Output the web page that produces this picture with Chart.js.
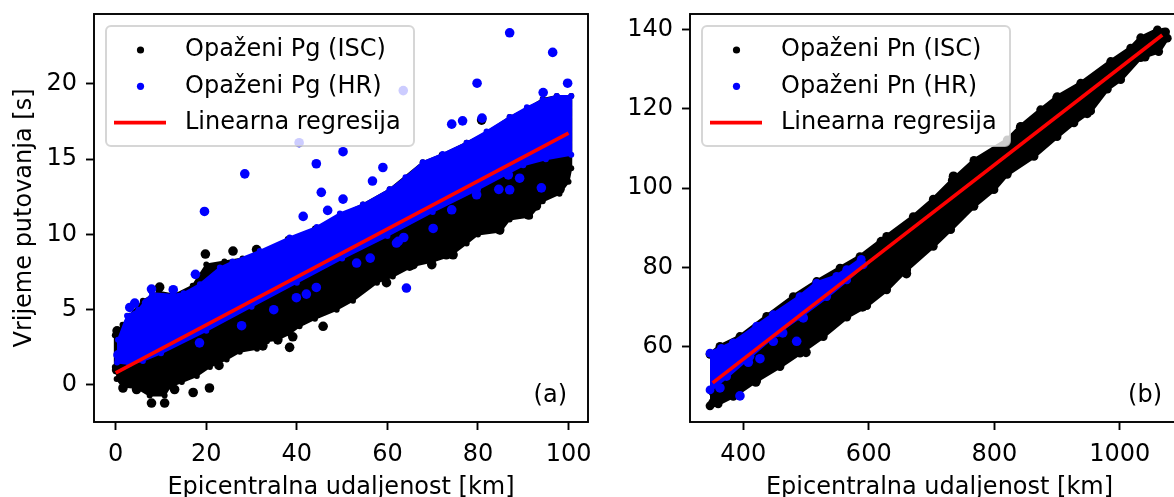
<!DOCTYPE html>
<html>
<head>
<meta charset="utf-8">
<script src="https://cdn.jsdelivr.net/npm/chart.js@4/dist/chart.umd.min.js"></script>
<style>
  html, body { margin: 0; padding: 0; background: #fff; overflow: hidden; width: 1174px; height: 497px; }
  #wrap { position: relative; width: 1174px; height: 497px; overflow: hidden; }
  canvas { position: absolute; top: 0; }
  #c1 { left: 0; }
  #c2 { left: 600px; }
</style>
</head>
<body>
<div id="wrap">
  <canvas id="c1" width="620" height="497"></canvas>
  <canvas id="c2" width="620" height="497"></canvas>
</div>
<script>
// ---------------- DATA ----------------
// Panel (a): Pg
const pgXTicks = [0, 20, 40, 60, 80, 100];
const pgYTicks = [0, 5, 10, 15, 20];
// outline of the dense ISC (black) cloud, [distance km, time s]
const pgIscCloud = [
  [-0.2, 1.2], [-0.2, 3.3], [1.5, 4.0], [3.0, 4.6], [6, 5.6], [9.5, 6.2], [13, 6.0], [17, 6.6],
  [20, 8.0], [24, 8.2], [28, 8.4], [31.5, 8.7], [38, 9.7], [44, 10.4], [49.5, 11.3], [54.6, 12.0],
  [60.5, 13.0], [67.8, 14.8], [72, 15.3], [77.5, 16.1], [82, 16.8], [87, 17.8], [91, 18.4],
  [94.3, 19.0], [97.4, 19.2], [100.6, 19.2], [100.6, 14.4],
  [100.0, 13.5], [98, 12.7], [94.3, 12.2], [91.5, 11.2], [87, 11.0], [85, 10.2], [80, 10.0],
  [77.5, 9.4], [74, 8.6], [70, 8.2], [65.6, 7.9], [61.2, 7.2], [57.7, 6.8], [52.4, 5.6], [48.8, 5.0],
  [44, 4.4], [40.6, 3.9], [38.4, 3.4], [35.6, 3.0], [33.4, 2.9], [31.2, 2.4], [27.4, 2.2], [24.5, 1.7],
  [20.8, 1.2], [17.9, 0.6], [14.6, 0.2], [12, -0.1], [10.8, -0.7], [7.5, -0.7], [4.6, -0.2],
  [1.5, -0.1], [0.2, 0.4]
];
// isolated ISC (black) points
const pgIscPoints = [
  [9.7, 6.5], [19.8, 8.7], [25.9, 8.9], [31.1, 9.0], [17.1, -0.5], [20.7, -0.2], [7.9, -1.2],
  [10.8, -1.2], [1.6, -0.2], [22.8, 1.3], [32.5, 2.6], [38.4, 2.5], [35.8, 3.0], [39.1, 3.2],
  [45.8, 3.9], [59.8, 6.8], [64.9, 7.9], [69.8, 8.0], [65.7, 8.0], [73.0, 8.65], [74.5, 8.65],
  [84.8, 10.3], [91.1, 11.3], [92.9, 11.9], [98.1, 13.0], [80.8, 17.6], [4.6, -0.3], [13, -0.3],
  [0.3, 3.6], [0.2, 1.0]
];
// outline of the dense HR (blue) cloud
const pgHrCloud = [
  [0.4, 1.7], [0.5, 3.0], [2.5, 4.6], [5, 5.0], [8, 6.1], [12.6, 6.0], [15, 6.1], [18.6, 6.7],
  [23, 7.8], [25.8, 8.2], [31.8, 8.9], [38.4, 9.8], [44.4, 10.5], [49.5, 11.4], [54.6, 12.0],
  [60.5, 13.0], [64, 13.8], [67.8, 14.8], [72.2, 15.35], [77.5, 16.1], [81.9, 16.85], [87, 17.8],
  [90.8, 18.45], [94.3, 18.95], [97.4, 19.2], [100.6, 19.2], [100.6, 15.3],
  [95, 15.0], [90, 14.6], [80, 13.0], [70, 11.5], [60, 9.9], [50, 8.4], [40, 6.8], [30, 5.2],
  [20, 3.6], [10, 2.1], [6, 1.6], [3, 1.4], [0.3, 1.5]
];
// isolated HR (blue) points
const pgHrPoints = [
  [87.0, 23.4], [96.5, 22.1], [99.8, 20.05], [79.8, 20.05], [63.5, 19.56], [40.5, 16.1], [50.2, 15.5],
  [44.3, 14.7], [59.0, 14.45], [56.7, 13.55], [45.4, 12.8], [50.2, 12.35], [41.4, 11.2], [46.8, 11.6],
  [74.2, 17.33], [76.6, 17.55], [80.9, 17.73], [28.5, 14.03], [19.6, 11.53], [17.6, 7.35], [18.5, 2.8],
  [27.8, 3.94], [34.9, 5.0], [39.9, 5.8], [42.1, 6.04], [44.3, 6.48], [53.2, 8.1], [56.2, 8.43],
  [62.0, 9.43], [63.6, 9.8], [62.4, 9.54], [64.2, 6.44], [70.1, 10.4], [74.2, 11.64], [79.7, 12.64],
  [84.6, 13.0], [87.0, 12.97], [89.2, 13.74], [94.0, 13.1], [86.7, 13.96], [3.1, 5.15], [4.2, 5.44],
  [6.8, 5.44], [7.9, 6.37], [12.7, 6.33], [0.5, 2.0], [94.4, 19.43]
];
const pgRegression = [[0, 0.8], [100, 16.73]];

// Panel (b): Pn
const pnXTicks = [400, 600, 800, 1000];
const pnYTicks = [60, 80, 100, 120, 140];
const pnIscCloud = [
  [347, 58.0], [362.8, 60.0], [394.7, 62.5], [437.3, 67.6], [479.7, 72.6], [517, 76.4], [554.2, 79.8],
  [586, 82.7], [628.5, 87.8], [670.9, 92.8], [702.8, 97.2], [733.1, 102.0], [767.6, 107.0],
  [820.7, 112.2], [842.1, 115.6], [873.9, 119.8], [900.4, 123.1], [937.7, 126.5], [985.5, 132.0],
  [1017.4, 135.4], [1033.3, 138.0], [1060, 140.0], [1073, 139.5], [1075.7, 137.9],
  [1062, 134.5], [1033.3, 133.0], [1001.4, 127.4], [980.1, 125.0], [953.6, 119.5], [927, 116.5],
  [900, 113.0], [863.3, 108.0], [820.7, 103.5], [799.5, 99.6], [767.6, 95.4], [730.5, 89.5],
  [702.8, 85.3], [660.4, 79.4], [628.5, 74.3], [596.7, 70.3], [564.8, 67.4], [527.5, 62.5],
  [490.4, 58.3], [458.5, 54.9], [421.4, 51.4], [384.1, 47.4], [360, 45.5], [347, 45.0]
];
const pnIscPoints = [
  [1070, 139.3], [1045, 137.2], [1040, 133.2], [948, 118.9], [735, 103.0], [842, 115.4],
  [900, 122.8], [620, 86.5], [555, 79.2], [660, 78.4], [590, 70.0], [500, 58.5], [420, 51.0],
  [352, 45.8], [352, 48.5]
];
const pnHrCloud = [
  [347, 58.3], [365, 59.5], [384.1, 60.9], [421.4, 65.1], [447.8, 68.0], [490.4, 72.6], [517, 76.0],
  [548.9, 77.7], [564.8, 79.4], [588, 82.0], [591, 80.6],
  [564.8, 76.8], [532.9, 72.6], [490.4, 67.6], [453.2, 63.4], [410.7, 57.5], [373.5, 52.4], [347, 49.0]
];
const pnHrPoints = [
  [394.7, 47.5], [485.1, 61.3], [426.6, 56.9], [408, 56.0], [495.6, 67.2], [462.8, 63.4],
  [447.8, 61.3], [362.8, 49.5]
];
const pnRegression = [[351.2, 50.8], [1067.7, 138.7]];

const labels = {
  a: ['Opaženi Pg (ISC)', 'Opaženi Pg (HR)', 'Linearna regresija'],
  b: ['Opaženi Pn (ISC)', 'Opaženi Pn (HR)', 'Linearna regresija']
};

// ---------------- RENDERING ----------------
const FONT = 'DejaVu Sans';
const FS = 24;
const toXY = a => a.map(([x, y]) => ({ x, y }));

const framePlugin = {
  id: 'mplFrame',
  afterDatasetsDraw(chart, args, opts) {
    const { ctx, chartArea: a } = chart;
    ctx.save();
    ctx.strokeStyle = '#000';
    ctx.lineWidth = 1.9;
    ctx.strokeRect(a.left, a.top, a.right - a.left, a.bottom - a.top);
    // panel tag
    ctx.fillStyle = '#000';
    ctx.font = FS + 'px "' + FONT + '"';
    ctx.textAlign = 'right';
    ctx.textBaseline = 'middle';
    ctx.fillText(opts.tag, a.right - opts.tagRight, opts.tagY);
    // legend
    const bx = a.left + 12, by = a.top + 12, bw = 308, bh = 120, r = 5;
    ctx.beginPath();
    ctx.moveTo(bx + r, by);
    ctx.arcTo(bx + bw, by, bx + bw, by + bh, r);
    ctx.arcTo(bx + bw, by + bh, bx, by + bh, r);
    ctx.arcTo(bx, by + bh, bx, by, r);
    ctx.arcTo(bx, by, bx + bw, by, r);
    ctx.closePath();
    ctx.fillStyle = 'rgba(255,255,255,0.8)';
    ctx.fill();
    ctx.strokeStyle = 'rgba(204,204,204,0.8)';
    ctx.lineWidth = 2;
    ctx.stroke();
    const items = chart.data.datasets.filter(d => d.legendKind).sort((p, q) => p.legendRank - q.legendRank);
    items.forEach((d, i) => {
      const y = by + 24 + i * 36.3;
      if (d.legendKind === 'dot') {
        ctx.beginPath();
        ctx.arc(bx + 34.5, y, 3.6, 0, Math.PI * 2);
        ctx.fillStyle = d.backgroundColor;
        ctx.fill();
      } else {
        ctx.beginPath();
        ctx.moveTo(bx + 8, y);
        ctx.lineTo(bx + 60, y);
        ctx.strokeStyle = d.borderColor;
        ctx.lineWidth = 3.6;
        ctx.stroke();
      }
      ctx.fillStyle = '#000';
      ctx.textAlign = 'left';
      ctx.textBaseline = 'middle';
      ctx.fillText(d.label, bx + 79, y);
    });
    ctx.restore();
  }
};

function makeChart(canvasId, cfg) {
  const datasets = [
    { label: cfg.labels[0], legendKind: 'dot', legendRank: 0, type: 'scatter', data: toXY(cfg.iscPts),
      backgroundColor: '#000000', borderColor: '#000000', pointBorderWidth: 0, pointRadius: 4.8, order: 3 },
    { label: cfg.labels[1], legendKind: 'dot', legendRank: 1, type: 'scatter', data: toXY(cfg.hrPts),
      backgroundColor: '#0000ff', borderColor: '#0000ff', pointBorderWidth: 0, pointRadius: 4.8, order: 1 },
    { label: cfg.labels[2], legendKind: 'line', legendRank: 2, type: 'line', data: toXY(cfg.reg),
      borderColor: '#ff0000', backgroundColor: '#ff0000', borderWidth: 3.6, pointRadius: 0, fill: false, order: 0 },
    { label: 'isc-cloud', type: 'line', data: toXY(cfg.iscCloud), borderColor: '#000000', backgroundColor: '#000000',
      pointBackgroundColor: '#000000', pointBorderWidth: 0, borderWidth: cfg.cloudLine, borderJoinStyle: 'round',
      pointRadius: cfg.cloudDot, fill: 'shape', tension: 0, order: 4 },
    { label: 'hr-cloud', type: 'line', data: toXY(cfg.hrCloud), borderColor: '#0000ff', backgroundColor: '#0000ff',
      pointBackgroundColor: '#0000ff', pointBorderWidth: 0, borderWidth: cfg.cloudLine, borderJoinStyle: 'round',
      pointRadius: cfg.cloudDot, fill: 'shape', tension: 0, order: 2 }
  ];
  const tickFont = { family: FONT, size: FS };
  return new Chart(document.getElementById(canvasId), {
    type: 'scatter',
    data: { datasets },
    plugins: [framePlugin],
    options: {
      responsive: false,
      animation: false,
      devicePixelRatio: 1,
      events: [],
      layout: { padding: cfg.padding },
      plugins: {
        legend: { display: false },
        tooltip: { enabled: false },
        mplFrame: { tag: cfg.tag, tagRight: cfg.tagRight, tagY: 396 }
      },
      scales: {
        x: {
          type: 'linear', min: cfg.xMin, max: cfg.xMax,
          afterBuildTicks: s => { s.ticks = cfg.xTicks.map(v => ({ value: v })); },
          afterFit: s => { s.height = 75; s.paddingLeft = 0; s.paddingRight = 0; },
          grid: { display: true, drawOnChartArea: false, drawTicks: true, tickLength: 8, tickColor: '#000', tickWidth: 1.9 },
          border: { display: false },
          ticks: { font: tickFont, color: '#000', padding: 10.5, maxRotation: 0, autoSkip: false, callback: v => String(v) },
          title: { display: true, text: 'Epicentralna udaljenost [km]', font: { family: FONT, size: FS, lineHeight: 0.75 },
                   color: '#000', padding: { top: 0, bottom: 0 } }
        },
        y: {
          type: 'linear', min: cfg.yMin, max: cfg.yMax,
          afterBuildTicks: s => { s.ticks = cfg.yTicks.map(v => ({ value: v })); },
          afterFit: s => { s.width = cfg.yWidth; s.paddingTop = 0; s.paddingBottom = 0; },
          grid: { display: true, drawOnChartArea: false, drawTicks: true, tickLength: 8, tickColor: '#000', tickWidth: 1.9 },
          border: { display: false },
          ticks: { font: tickFont, color: '#000', padding: 9, autoSkip: false, callback: v => String(v) },
          title: { display: !!cfg.yTitle, text: cfg.yTitle || '', font: { family: FONT, size: FS, lineHeight: 1.2 },
                   color: '#000', padding: { top: 10, bottom: 0 } }
        }
      }
    }
  });
}

makeChart('c1', {
  labels: labels.a, iscPts: pgIscPoints, hrPts: pgHrPoints, reg: pgRegression,
  iscCloud: pgIscCloud, hrCloud: pgHrCloud, xTicks: pgXTicks, yTicks: pgYTicks,
  xMin: -4.8, xMax: 104.3, yMin: -2.46, yMax: 24.65, yWidth: 94,
  padding: { left: 0, top: 14, right: 32, bottom: 0 },
  cloudDot: 3, cloudLine: 2,
  yTitle: 'Vrijeme putovanja [s]', tag: '(a)', tagRight: 21
});
makeChart('c2', {
  labels: labels.b, iscPts: pnIscPoints, hrPts: pnHrPoints, reg: pnRegression,
  iscCloud: pnIscCloud, hrCloud: pnHrCloud, xTicks: pnXTicks, yTicks: pnYTicks,
  xMin: 315.1, xMax: 1110.3, yMin: 40.9, yMax: 144.0, yWidth: 90,
  padding: { left: 0, top: 14, right: 31, bottom: 0 },
  cloudDot: 4.4, cloudLine: 4,
  yTitle: null, tag: '(b)', tagRight: 27
});
</script>
</body>
</html>
